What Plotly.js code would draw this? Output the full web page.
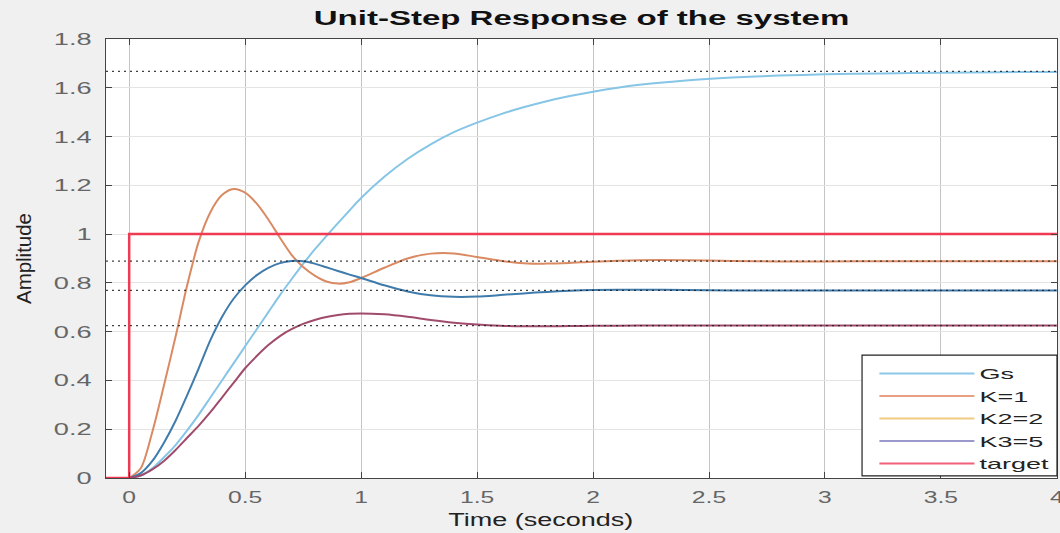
<!DOCTYPE html>
<html>
<head>
<meta charset="utf-8">
<script src="https://cdn.plot.ly/plotly-3.0.1.min.js"></script>
<style>
  html, body { margin: 0; padding: 0; background: #ffffff; }
  #chart { width: 1060px; height: 533px; }
</style>
</head>
<body>
<div id="chart"></div>
<script>
// Sample times (seconds) shared by the four step responses
const time = [0, 0.05, 0.1, 0.15, 0.2, 0.25, 0.3, 0.35, 0.4, 0.45, 0.5, 0.55, 0.6, 0.65, 0.7, 0.75,
  0.8, 0.85, 0.9, 0.95, 1.0, 1.1, 1.2, 1.3, 1.4, 1.5, 1.6, 1.7, 1.8, 1.9, 2.0, 2.2, 2.4, 2.6, 2.8,
  3.0, 3.25, 3.5, 3.75, 4.0];

// Open-loop plant response
const gs = [0, 0.01, 0.04, 0.085, 0.135, 0.195, 0.26, 0.33, 0.40, 0.47, 0.54, 0.61, 0.68, 0.75, 0.815, 0.878,
  0.937, 0.992, 1.045, 1.097, 1.148, 1.235, 1.308, 1.368, 1.418, 1.457, 1.491, 1.52, 1.545, 1.566, 1.584, 1.612,
  1.63, 1.642, 1.65, 1.655, 1.659, 1.662, 1.664, 1.665];

// Closed-loop responses
const k1 = [0, 0.04, 0.19, 0.38, 0.58, 0.79, 0.97, 1.09, 1.16, 1.185, 1.17, 1.125, 1.06, 0.985, 0.915, 0.865,
  0.83, 0.806, 0.797, 0.803, 0.82, 0.862, 0.90, 0.92, 0.921, 0.906, 0.891, 0.881, 0.879, 0.882, 0.887, 0.893,
  0.893, 0.890, 0.888, 0.888, 0.889, 0.889, 0.889, 0.889];

const k2 = [0, 0.02, 0.07, 0.145, 0.235, 0.34, 0.45, 0.565, 0.66, 0.735, 0.79, 0.832, 0.862, 0.881, 0.89, 0.889,
  0.879, 0.864, 0.849, 0.834, 0.82, 0.79, 0.765, 0.749, 0.743, 0.744, 0.75, 0.757, 0.763, 0.768, 0.771, 0.772,
  0.771, 0.769, 0.769, 0.769, 0.769, 0.769, 0.769, 0.769];

const k3 = [0, 0.01, 0.035, 0.07, 0.115, 0.165, 0.215, 0.27, 0.33, 0.39, 0.45, 0.50, 0.545, 0.582, 0.61, 0.632,
  0.648, 0.66, 0.668, 0.673, 0.675, 0.671, 0.661, 0.648, 0.637, 0.629, 0.624, 0.622, 0.622, 0.623, 0.624, 0.625,
  0.625, 0.625, 0.625, 0.625, 0.625, 0.625, 0.625, 0.625];

// Reference step input
const targetTime = [-0.1, 0, 0, 4];
const targetValue = [0, 0, 1, 1];

// Steady-state levels marked with dotted lines
const finalValues = [1.667, 0.889, 0.769, 0.625];

const seriesNames = ['Gs', 'K=1', 'K2=2', 'K3=5', 'target'];
const curveColors = ['#86c5e6', '#d98a63', '#3f7bab', '#a04a6c', '#ee3a52'];
const legendColors = ['#8ec8e8', '#e8a080', '#f0cc80', '#9d98cc', '#f0607a'];

const xTicks = [0, 0.5, 1, 1.5, 2, 2.5, 3, 3.5, 4];
const yTicks = [0, 0.2, 0.4, 0.6, 0.8, 1, 1.2, 1.4, 1.6, 1.8];

const xRange = [-0.1, 4];
const yRange = [0, 1.8];

const responses = [gs, k1, k2, k3];
const traces = [];

responses.forEach((vals, i) => {
  traces.push({
    x: time, y: vals, type: 'scatter', mode: 'lines',
    line: { color: curveColors[i], width: 2, shape: 'spline', smoothing: 0.8 },
    showlegend: false, hoverinfo: 'skip'
  });
});

traces.push({
  x: targetTime, y: targetValue, type: 'scatter', mode: 'lines',
  line: { color: curveColors[4], width: 2.5 },
  showlegend: false, hoverinfo: 'skip'
});

finalValues.forEach(v => {
  traces.push({
    x: xRange, y: [v, v], type: 'scatter', mode: 'lines',
    line: { color: 'rgba(30,30,30,0.85)', width: 1.3, dash: '2px,4px' },
    showlegend: false, hoverinfo: 'skip'
  });
});

// Legend entries
seriesNames.forEach((name, i) => {
  traces.push({
    x: [null], y: [null], type: 'scatter', mode: 'lines', name: name,
    legendgroup: 'g' + i,
    line: { color: legendColors[i], width: 2 }
  });
});

const baseFont = 'Liberation Sans, Arial, sans-serif';
const tickFont = { family: baseFont, size: 17, color: '#666666' };

const layout = {
  width: 1060, height: 533,
  margin: { l: 106, r: 3, t: 39, b: 55 },
  paper_bgcolor: '#f0f0f0',
  plot_bgcolor: '#ffffff',
  title: {
    text: '<b>Unit-Step Response of the system</b>',
    font: { family: baseFont, size: 20, color: '#111111' },
    x: 0.5, xref: 'paper', xanchor: 'center', y: 0.966, yanchor: 'middle'
  },
  xaxis: {
    range: [xRange[0], xRange[1] + 0.0005], tickvals: xTicks, ticks: 'inside', ticklen: 6, tickcolor: '#444',
    showline: true, linecolor: '#444', linewidth: 1, mirror: 'ticks',
    showgrid: true, gridcolor: '#c4c4c4', gridwidth: 1, zeroline: false,
    tickfont: tickFont, ticklabelstandoff: 4, ticklabeloverflow: 'allow'
  },
  yaxis: {
    range: yRange, tickvals: yTicks, ticks: 'inside', ticklen: 6, tickcolor: '#444',
    showline: true, linecolor: '#444', linewidth: 1, mirror: 'ticks',
    showgrid: true, gridcolor: '#e4e4e4', gridwidth: 1, zeroline: false,
    tickfont: tickFont, ticklabelstandoff: 10,
    title: { text: 'Amplitude', font: { family: baseFont, size: 21, color: '#222' }, standoff: 30 }
  },
  annotations: [{
    text: 'Time (seconds)', xref: 'paper', yref: 'paper', x: 0.457, y: -0.0957,
    xanchor: 'center', yanchor: 'middle', showarrow: false,
    font: { family: baseFont, size: 18, color: '#222' }
  }],
  legend: {
    x: 0.808, y: 0.275, xanchor: 'left', yanchor: 'top',
    bgcolor: 'rgba(0,0,0,0)', borderwidth: 0,
    font: { family: baseFont, size: 15, color: '#222' },
    traceorder: 'grouped', tracegroupgap: 0, itemwidth: 95
  },
  shapes: [{
    type: 'rect', xref: 'paper', yref: 'paper', x0: 0.795, x1: 1, y0: 0.005, y1: 0.28,
    fillcolor: '#ffffff', line: { color: '#222', width: 1.2 }, layer: 'above'
  }]
};

// Widen rendered text horizontally by a factor
function widen(selector, factor) {
  document.querySelectorAll(selector).forEach(el => {
    const w = el.getComputedTextLength();
    if (w > 0) {
      el.setAttribute('textLength', (w * factor).toFixed(1));
      el.setAttribute('lengthAdjust', 'spacingAndGlyphs');
    }
  });
}

// Fit rendered text to a fixed length
function fitLength(selector, len) {
  document.querySelectorAll(selector).forEach(el => {
    el.setAttribute('textLength', len);
    el.setAttribute('lengthAdjust', 'spacingAndGlyphs');
  });
}

Plotly.newPlot('chart', traces, layout, { staticPlot: true }).then(() => {
  widen('.xtick text', 1.45);
  widen('.ytick text', 1.6);
  widen('text.gtitle', 1.65);
  widen('.annotation-text', 1.5);
  fitLength('text.ytitle', 91);
  document.querySelectorAll('.legend .scrollbox, .legend').forEach(el => el.removeAttribute('clip-path'));
  widen('text.legendtext', 1.8);
});
</script>
</body>
</html>
